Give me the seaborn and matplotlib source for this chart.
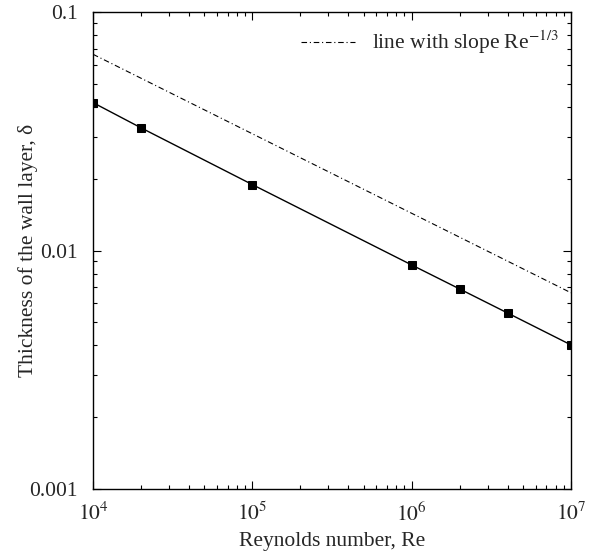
import matplotlib
matplotlib.use("Agg")
import matplotlib.pyplot as plt
import seaborn as sns
import pandas as pd
from matplotlib.ticker import LogLocator, FixedLocator, FixedFormatter, NullFormatter

# Data
re_values = [1e4, 2e4, 1e5, 1e6, 2e6, 4e6, 1e7]
delta_values = [0.0417, 0.0327, 0.0189, 0.0087, 0.0069, 0.00547, 0.00402]
slope_re = [1e4, 1e7]
slope_delta = [0.0665, 0.00665]
y_ticks = [0.001, 0.01, 0.1]
y_tick_labels = ["0.001", "0.01", "0.1"]
x_ticks = [1e4, 1e5, 1e6, 1e7]
x_tick_labels = [r"$10^{4}$", r"$10^{5}$", r"$10^{6}$", r"$10^{7}$"]

sns.set_style("ticks")
plt.rcParams["font.family"] = ["Liberation Serif", "DejaVu Serif"]
plt.rcParams["mathtext.fontset"] = "stix"

df = pd.DataFrame({"Re": re_values, "delta": delta_values})
df_slope = pd.DataFrame({"Re": slope_re, "delta": slope_delta})

fig = plt.figure(figsize=(5.97, 5.59), dpi=100)
ax = fig.add_axes([0.1558, 0.1252, 0.8006, 0.8533])

sns.lineplot(data=df, x="Re", y="delta", ax=ax, color="black", linewidth=1.0,
             marker="s", markersize=6, markeredgecolor="black", markerfacecolor="black")
sns.lineplot(data=df_slope, x="Re", y="delta", ax=ax, color="black", linewidth=0.8,
             linestyle=(0, (5, 2.5, 1, 2.5)), label=r"line with slope Re$^{-1/3}$")

ax.set_xscale("log")
ax.set_yscale("log")
ax.set_xlim(1e4, 1e7)
ax.set_ylim(1e-3, 1e-1)

ax.xaxis.set_major_locator(FixedLocator(x_ticks))
ax.xaxis.set_major_formatter(FixedFormatter(x_tick_labels))
ax.yaxis.set_major_locator(FixedLocator(y_ticks))
ax.yaxis.set_major_formatter(FixedFormatter(y_tick_labels))
ax.xaxis.set_minor_locator(LogLocator(base=10, subs=range(2, 10)))
ax.yaxis.set_minor_locator(LogLocator(base=10, subs=range(2, 10)))
ax.xaxis.set_minor_formatter(NullFormatter())
ax.yaxis.set_minor_formatter(NullFormatter())

ax.tick_params(which="both", direction="in", top=True, right=True, color="black", width=0.8)
ax.tick_params(which="major", length=6, labelsize=15.5)
ax.tick_params(axis="x", which="major", pad=10)
ax.tick_params(axis="y", which="major", pad=11)
ax.tick_params(which="minor", length=3)
for s in ax.spines.values():
    s.set_linewidth(1.0)
    s.set_color("black")

ax.set_xlabel("Reynolds number, Re", fontsize=15.5, labelpad=4)
ax.set_ylabel("Thickness of the wall layer, δ", fontsize=15.5, labelpad=-6)

leg = ax.legend(loc="upper right", bbox_to_anchor=(1.0, 0.99), frameon=False,
                fontsize=15.5, handlelength=2.5, borderaxespad=0.15, handletextpad=0.8)

fig.savefig("out.png", dpi=100)
